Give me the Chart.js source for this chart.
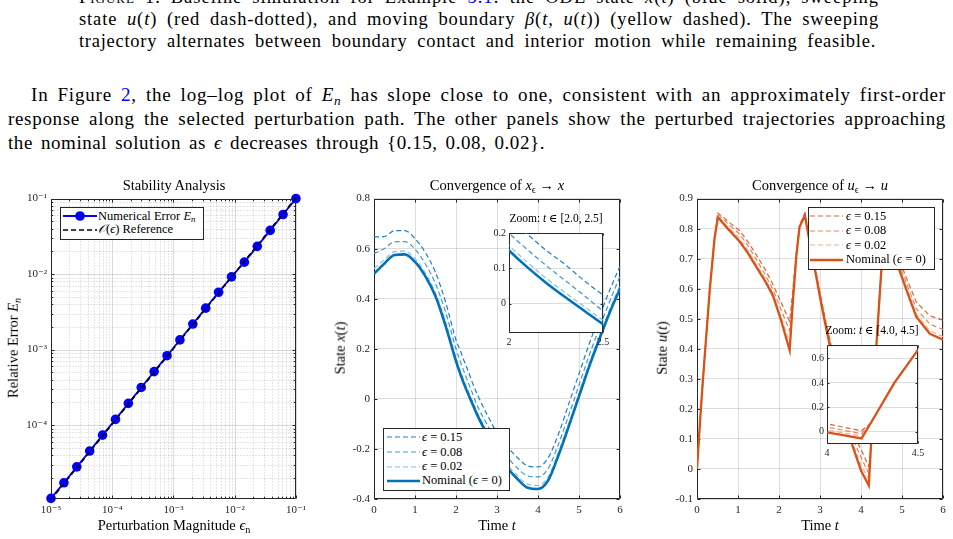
<!DOCTYPE html>
<html><head><meta charset="utf-8">
<script src="https://cdn.jsdelivr.net/npm/chart.js@4.4.1/dist/chart.umd.min.js"></script>
<style>
html,body{margin:0;padding:0;background:#fff}
body{width:953px;height:539px;overflow:hidden;position:relative;font-family:"Liberation Serif","DejaVu Serif",serif;color:#000}
.tl{position:absolute;white-space:nowrap;line-height:1}
.ref{color:#0000ff}
sub{font-size:70%;vertical-align:-0.28em;line-height:0}
.lab{position:absolute;white-space:nowrap;line-height:1;z-index:5}
.cv{position:absolute}
.leg{position:absolute;background:#fff;border:1px solid #262626;box-sizing:border-box;z-index:10}
.row{position:absolute;white-space:nowrap;line-height:1;display:flex;align-items:center;height:14px}
.row svg{flex:none;display:block}
</style></head><body>
<script>
// ---------------- DATA ----------------
// Panel 1: stability analysis (log-log)
const epsN = [1.000e-5,1.624e-5,2.637e-5,4.281e-5,6.952e-5,1.129e-4,1.833e-4,2.976e-4,4.833e-4,7.848e-4,1.274e-3,2.069e-3,3.360e-3,5.456e-3,8.859e-3,1.438e-2,2.336e-2,3.793e-2,6.158e-2,1.000e-1];
const errN = [1.07e-5,1.72e-5,2.80e-5,4.53e-5,7.36e-5,1.19e-4,1.94e-4,3.15e-4,5.11e-4,8.30e-4,1.345e-3,2.18e-3,3.54e-3,5.75e-3,9.20e-3,1.44e-2,2.33e-2,3.79e-2,6.15e-2,1.00e-1];
const refN = [1.03e-5,1.673e-5,2.716e-5,4.409e-5,7.161e-5,1.163e-4,1.888e-4,3.065e-4,4.978e-4,8.083e-4,1.312e-3,2.131e-3,3.461e-3,5.62e-3,9.125e-3,1.481e-2,2.406e-2,3.907e-2,6.343e-2,1.03e-1];
const logDecades = [1e-5,1e-4,1e-3,1e-2,1e-1];

// Panel 2: x(t)
const tX   = [0,0.25,0.5,0.75,1,1.25,1.5,1.75,2,2.1,2.2,2.3,2.4,2.5,2.75,3,3.25,3.5,3.75,4,4.25,4.5,4.75,5,5.25,5.5,5.75,6];
const xNom = [0.500,0.540,0.575,0.577,0.547,0.490,0.410,0.290,0.151,0.102,0.058,0.018,-0.020,-0.058,-0.140,-0.215,-0.275,-0.320,-0.355,-0.360,-0.325,-0.225,-0.110,0.010,0.130,0.240,0.345,0.440];
const x015 = [0.647,0.648,0.672,0.672,0.640,0.585,0.505,0.385,0.235,0.195,0.150,0.110,0.065,0.025,-0.060,-0.135,-0.190,-0.235,-0.268,-0.272,-0.235,-0.140,-0.020,0.100,0.220,0.330,0.435,0.530];
const x008 = [0.580,0.600,0.627,0.628,0.598,0.540,0.460,0.345,0.200,0.152,0.107,0.065,0.023,-0.020,-0.100,-0.175,-0.232,-0.277,-0.308,-0.312,-0.278,-0.180,-0.065,0.055,0.175,0.285,0.390,0.490];
const x002 = [0.521,0.555,0.588,0.590,0.560,0.503,0.423,0.305,0.165,0.116,0.071,0.031,-0.008,-0.047,-0.128,-0.202,-0.262,-0.307,-0.341,-0.346,-0.311,-0.212,-0.097,0.023,0.143,0.253,0.358,0.454];

// Panel 3: u(t)
const tU   = [0,0.08,0.15,0.23,0.31,0.43,0.51,0.75,1.04,1.25,1.45,1.65,1.85,2.05,2.26,2.34,2.42,2.5,2.63,2.77,2.91,3.03,3.16,3.4,3.6,3.8,4.0,4.19,4.24,4.37,4.5,4.62,4.78,4.94,5.11,5.35,5.68,6.0];
const uNom = [0,0.17,0.307,0.45,0.595,0.77,0.838,0.80,0.757,0.717,0.672,0.628,0.578,0.495,0.395,0.56,0.705,0.805,0.844,0.74,0.639,0.55,0.462,0.31,0.18,0.074,-0.005,-0.055,0.07,0.40,0.67,0.85,0.76,0.66,0.595,0.506,0.45,0.43];
const u015 = [0,0.17,0.307,0.45,0.597,0.775,0.852,0.825,0.793,0.755,0.712,0.667,0.615,0.555,0.49,0.60,0.715,0.81,0.852,0.752,0.652,0.566,0.48,0.335,0.21,0.12,0.065,0.008,0.07,0.40,0.67,0.862,0.785,0.695,0.635,0.555,0.51,0.495];
const u008 = [0,0.17,0.307,0.45,0.596,0.773,0.848,0.817,0.782,0.742,0.697,0.65,0.598,0.53,0.46,0.585,0.71,0.808,0.848,0.746,0.646,0.559,0.472,0.325,0.2,0.1,0.039,-0.016,0.07,0.40,0.67,0.857,0.775,0.68,0.617,0.533,0.482,0.464];
const u002 = [0,0.17,0.307,0.45,0.595,0.771,0.842,0.807,0.767,0.727,0.681,0.636,0.585,0.507,0.42,0.567,0.706,0.806,0.846,0.742,0.641,0.552,0.465,0.316,0.188,0.085,0.013,-0.035,0.07,0.40,0.67,0.852,0.765,0.666,0.602,0.515,0.46,0.44];

// tick values
const ticksT  = [0,1,2,3,4,5,6];
const ticksXv = [-0.4,-0.2,0,0.2,0.4,0.6,0.8];
const ticksUv = [-0.1,0,0.1,0.2,0.3,0.4,0.5,0.6,0.7,0.8,0.9];
const ticksInsXt = [2,2.5], ticksInsXv = [0,0.1,0.2];
const ticksInsUt = [4,4.5], ticksInsUv = [0,0.2,0.4,0.6];

const blues   = ['#1f80c4','#4296cf','#86bce3','#0072bd'];
const oranges = ['#de6535','#e6835a','#efae90','#d95319'];

// ---------------- TEXT ----------------
const FONT = '"Liberation Serif","DejaVu Serif",serif';
function textLine(s){
  const d=document.createElement('div'); d.className='tl'; d.innerHTML=s.html;
  d.style.fontSize=s.size+'px'; d.style.left=s.x+'px'; document.body.appendChild(d);
  const nat=d.getBoundingClientRect().width;
  const chars=d.textContent.length;
  const n=(d.textContent.match(/ /g)||[]).length;
  if(s.w){
    const extra=s.w-nat;
    if(extra>0){ d.style.letterSpacing=(extra*0.6/chars)+'px'; }
    const nat2=d.getBoundingClientRect().width;
    if(n) d.style.wordSpacing=((s.w-nat2)/n)+'px';
  }
  d.style.top=(s.base-s.size*0.84)+'px';
}
[
 {html:'<span style="font-variant:small-caps">Figure 1.</span> Baseline simulation for Example <span class="ref">5.1</span>: the ODE state <i>x</i>(<i>t</i>) (blue solid), sweeping',x:79,w:800,base:4,size:18.5},
 {html:'state <i>u</i>(<i>t</i>) (red dash-dotted), and moving boundary <i>β</i>(<i>t</i>, <i>u</i>(<i>t</i>)) (yellow dashed). The sweeping',x:79,w:800,base:26,size:18.5},
 {html:'trajectory alternates between boundary contact and interior motion while remaining feasible.',x:79,w:797,base:48,size:18.5},
 {html:'In Figure <span class="ref">2</span>, the log–log plot of <i>E<sub>n</sub></i> has slope close to one, consistent with an approximately first-order',x:31,w:915,base:101,size:19},
 {html:'response along the selected perturbation path. The other panels show the perturbed trajectories approaching',x:8,w:938,base:125,size:19},
 {html:'the nominal solution as <i>ϵ</i> decreases through {0.15, 0.08, 0.02}.',x:8,w:537,base:149,size:19}
].forEach(textLine);

function lab(html,cx,cy,size,rot){
  const d=document.createElement('div'); d.className='lab'; d.innerHTML=html; d.style.fontSize=size+'px';
  d.style.left=cx+'px'; d.style.top=cy+'px';
  d.style.transform='translate(-50%,-50%)'+(rot?' rotate(-90deg)':'');
  document.body.appendChild(d); return d;
}

// ---------------- CHART HELPERS ----------------
Chart.defaults.font.family = FONT;
Chart.defaults.color = '#262626';
const isDecade = v => Math.abs(Math.log10(v)-Math.round(Math.log10(v)))<1e-6;
const supMap={'-':'⁻','0':'⁰','1':'¹','2':'²','3':'³','4':'⁴','5':'⁵','6':'⁶','7':'⁷','8':'⁸','9':'⁹'};
const pow10 = v => '10'+String(Math.round(Math.log10(v))).split('').map(c=>supMap[c]).join('');
function logTicks(lo,hi){
  const out=[]; logDecades.forEach(d=>{for(let k=1;k<10;k++){const v=d*k; if(v>=lo*0.9999&&v<=hi*1.0001) out.push(v);}}); return out;
}

const framePlugin = {
  id:'frame',
  beforeDraw(chart,args,o){
    if(!o.fill) return; const a=chart.chartArea, c=chart.ctx;
    c.save(); c.fillStyle='#fff'; c.fillRect(a.left,a.top,a.right-a.left,a.bottom-a.top); c.restore();
  },
  beforeDatasetsDraw(chart,args,o){
    const a=chart.chartArea, c=chart.ctx, xs=chart.scales.x, ys=chart.scales.y;
    const L=Math.round(a.left)+0.5, R=Math.round(a.right)-0.5, T=Math.round(a.top)+0.5, B=Math.round(a.bottom)-0.5;
    c.save();
    if(o.logGrid){
      [[xs,false],[ys,true]].forEach(([s,h])=>{
        s.ticks.forEach(t=>{
          const p=Math.round(s.getPixelForValue(t.value))+0.5, maj=isDecade(t.value);
          c.beginPath(); c.setLineDash(maj?[]:[1,2]); c.lineWidth=1;
          c.strokeStyle=maj?'rgba(0,0,0,0.14)':'rgba(0,0,0,0.2)';
          if(h){c.moveTo(L,p);c.lineTo(R,p);} else {c.moveTo(p,T);c.lineTo(p,B);}
          c.stroke();
        });
      });
      c.setLineDash([]);
    }
    c.strokeStyle='#262626'; c.lineWidth=1; c.beginPath();
    const tl=o.tickLen||3;
    xs.ticks.forEach(t=>{const p=Math.round(xs.getPixelForValue(t.value))+0.5; const l=(o.logGrid&&!isDecade(t.value))?tl*0.6:tl;
      c.moveTo(p,B);c.lineTo(p,B-l);c.moveTo(p,T);c.lineTo(p,T+l);});
    ys.ticks.forEach(t=>{const p=Math.round(ys.getPixelForValue(t.value))+0.5; const l=(o.logGrid&&!isDecade(t.value))?tl*0.6:tl;
      c.moveTo(L,p);c.lineTo(L+l,p);c.moveTo(R,p);c.lineTo(R-l,p);});
    c.stroke();
    c.beginPath(); c.rect(L,T,R-L,B-T); c.stroke();
    c.restore();
  }
};

function panel(p){
  const W=p.plot.w+p.pad.l+p.pad.r, H=p.plot.h+p.pad.t+p.pad.b;
  const d=document.createElement('div'); d.className='cv';
  d.style.left=(p.plot.l-p.pad.l)+'px'; d.style.top=(p.plot.t-p.pad.t)+'px';
  d.style.width=W+'px'; d.style.height=H+'px'; d.style.zIndex=p.z||1;
  const cv=document.createElement('canvas'); cv.width=W; cv.height=H; cv.style.width=W+'px'; cv.style.height=H+'px';
  d.appendChild(cv); document.body.appendChild(d);
  const fs=p.fontSize||11;
  const axis=(ax,isX)=>({
    type:ax.type||'linear', min:ax.min, max:ax.max, position:isX?'bottom':'left',
    afterFit:s=>{ if(isX) s.height=p.pad.b; else s.width=p.pad.l; },
    afterBuildTicks:s=>{ s.ticks=ax.ticks.map(v=>({value:v})); },
    grid:{display:!p.logGrid, drawTicks:false, color:'rgba(0,0,0,0.13)', lineWidth:1},
    border:{display:false},
    ticks:{autoSkip:false, maxRotation:0, minRotation:0, padding:isX?(p.xPad||5):(p.yPad||4), color:'#262626',
      font:{family:FONT,size:fs}, callback:ax.fmt}
  });
  return new Chart(cv,{
    type:'scatter',
    data:{datasets:p.datasets},
    options:{
      responsive:false, animation:false, devicePixelRatio:1,
      layout:{padding:{left:0,top:p.pad.t,right:p.pad.r,bottom:0}},
      plugins:{legend:{display:false}, tooltip:{enabled:false}, frame:{fill:!!p.fill, logGrid:!!p.logGrid, tickLen:p.tickLen||3}},
      scales:{x:axis(p.x,true), y:axis(p.y,false)},
      elements:{point:{radius:0}}
    },
    plugins:[framePlugin]
  });
}
const pts=(xs,ys)=>xs.map((x,i)=>({x:x,y:ys[i]}));
const numFmt = v => String(Math.round(v*100)/100);

// ---------------- PANEL 1 ----------------
panel({
  plot:{l:51,t:198,w:246,h:301}, pad:{l:46,t:10,r:14,b:22}, logGrid:true,
  x:{type:'logarithmic',min:1e-5,max:1e-1,ticks:logTicks(1e-5,1e-1),fmt:v=>isDecade(v)?pow10(v):''},
  y:{type:'logarithmic',min:1.05e-5,max:1e-1,ticks:logTicks(1.05e-5,1e-1),fmt:v=>isDecade(v)?pow10(v):''},
  datasets:[
    {data:pts(epsN,refN),showLine:true,borderColor:'#000',borderWidth:1.5,borderDash:[5,3],pointRadius:0,clip:false,order:0},
    {data:pts(epsN,errN),showLine:true,borderColor:'#0000ff',backgroundColor:'#0000ff',borderWidth:1.8,pointRadius:4.8,pointBorderWidth:0,clip:false,order:1}
  ]
});

// ---------------- PANEL 2 ----------------
const xSets=(clip)=>[
  {data:pts(tX,xNom),showLine:true,borderColor:blues[3],borderWidth:2.6,cubicInterpolationMode:'monotone',order:0,clip:clip},
  {data:pts(tX,x002),showLine:true,borderColor:blues[2],borderWidth:1.2,borderDash:[5,3],cubicInterpolationMode:'monotone',order:1,clip:clip},
  {data:pts(tX,x008),showLine:true,borderColor:blues[1],borderWidth:1.2,borderDash:[5,3],cubicInterpolationMode:'monotone',order:2,clip:clip},
  {data:pts(tX,x015),showLine:true,borderColor:blues[0],borderWidth:1.2,borderDash:[5,3],cubicInterpolationMode:'monotone',order:3,clip:clip}
];
panel({
  plot:{l:374,t:198,w:246,h:301}, pad:{l:46,t:10,r:14,b:22},
  x:{min:0,max:6,ticks:ticksT,fmt:numFmt}, y:{min:-0.4,max:0.8,ticks:ticksXv,fmt:numFmt},
  datasets:xSets(0)
});
panel({
  plot:{l:509,t:228,w:94,h:105}, pad:{l:30,t:4,r:12,b:16}, z:2, fill:true, fontSize:10, xPad:3, yPad:3, tickLen:2,
  x:{min:2,max:2.5,ticks:ticksInsXt,fmt:numFmt}, y:{min:-0.083,max:0.2,ticks:ticksInsXv,fmt:numFmt},
  datasets:xSets(0)
});

// ---------------- PANEL 3 ----------------
const uSets=()=>[
  {data:pts(tU,uNom),showLine:true,borderColor:oranges[3],borderWidth:2.3,order:0,clip:0},
  {data:pts(tU,u002),showLine:true,borderColor:oranges[2],borderWidth:1.2,borderDash:[5,3],order:1,clip:0},
  {data:pts(tU,u008),showLine:true,borderColor:oranges[1],borderWidth:1.2,borderDash:[5,3],order:2,clip:0},
  {data:pts(tU,u015),showLine:true,borderColor:oranges[0],borderWidth:1.2,borderDash:[5,3],order:3,clip:0}
];
panel({
  plot:{l:697,t:198,w:246,h:301}, pad:{l:46,t:10,r:10,b:22},
  x:{min:0,max:6,ticks:ticksT,fmt:numFmt}, y:{min:-0.1,max:0.9,ticks:ticksUv,fmt:numFmt},
  datasets:uSets()
});
panel({
  plot:{l:827,t:340,w:91,h:104}, pad:{l:30,t:4,r:12,b:16}, z:2, fill:true, fontSize:10, xPad:3, yPad:3, tickLen:2,
  x:{min:4,max:4.5,ticks:ticksInsUt,fmt:numFmt}, y:{min:-0.1,max:0.71,ticks:ticksInsUv,fmt:numFmt},
  datasets:uSets()
});

// ---------------- TITLES / LABELS ----------------
lab('Stability Analysis',174,185,14.5);
lab('Convergence of <i>x</i><sub>ϵ</sub> → <i>x</i>',497,185,14.5);
lab('Convergence of <i>u</i><sub>ϵ</sub> → <i>u</i>',820,185,14.5);
lab('Perturbation Magnitude <i>ϵ</i><sub>n</sub>',174,525,14.5);
lab('Time <i>t</i>',497,525,14.5);
lab('Time <i>t</i>',820,525,14.5);
lab('Relative Error <i>E<sub>n</sub></i>',13,348,14.5,true);
lab('State <i>x</i>(<i>t</i>)',340,348,14.5,true);
lab('State <i>u</i>(<i>t</i>)',662,348,14.5,true);
lab('Zoom: <i>t</i> ∈ [2.0, 2.5]',556,219,11.5);
lab('Zoom: <i>t</i> ∈ [4.0, 4.5]',872,331,11.5);

// ---------------- LEGENDS ----------------
function legend(box,rows,sx0,sx1,tx,fs){
  const b=document.createElement('div'); b.className='leg';
  b.style.left=box.l+'px'; b.style.top=box.t+'px'; b.style.width=(box.r-box.l)+'px'; b.style.height=(box.b-box.t)+'px';
  document.body.appendChild(b);
  rows.forEach(r=>{
    const row=document.createElement('div'); row.className='row';
    row.style.left=(sx0-box.l-1)+'px'; row.style.top=(r.y-box.t-1-7)+'px'; row.style.fontSize=fs+'px';
    const sw=tx-sx0, len=sx1-sx0;
    let svg=`<svg width="${sw}" height="14" viewBox="0 0 ${sw} 14"><line x1="0" y1="7" x2="${len}" y2="7" stroke="${r.color}" stroke-width="${r.w}" ${r.dash?'stroke-dasharray="'+r.dash+'"':''}/>`;
    if(r.marker) svg+=`<circle cx="${len/2}" cy="7" r="4.8" fill="${r.color}"/>`;
    svg+='</svg>';
    row.innerHTML=svg+'<span>'+r.html+'</span>';
    b.appendChild(row);
  });
}
legend({l:60,t:207,r:204,b:240},[
  {y:216,html:'Numerical Error <i>E<sub>n</sub></i>',color:'#0000ff',w:1.8,marker:true},
  {y:229.5,html:'<i>𝒪</i>(<i>ϵ</i>) Reference',color:'#000',w:1.5,dash:'5 3'}
],63,97,98,12.5);
const epsHtml=['<i>ϵ</i> = 0.15','<i>ϵ</i> = 0.08','<i>ϵ</i> = 0.02','Nominal (<i>ϵ</i> = 0)'];
legend({l:383,t:428,r:510,b:491},[
  {y:437,html:epsHtml[0],color:blues[0],w:1.2,dash:'5 3'},
  {y:452,html:epsHtml[1],color:blues[1],w:1.2,dash:'5 3'},
  {y:466.5,html:epsHtml[2],color:blues[2],w:1.2,dash:'5 3'},
  {y:480.5,html:epsHtml[3],color:blues[3],w:2.6}
],387,420,422,12.5);
legend({l:808,t:207,r:935,b:270},[
  {y:216,html:epsHtml[0],color:oranges[0],w:1.2,dash:'5 3'},
  {y:230.5,html:epsHtml[1],color:oranges[1],w:1.2,dash:'5 3'},
  {y:245,html:epsHtml[2],color:oranges[2],w:1.2,dash:'5 3'},
  {y:259.5,html:epsHtml[3],color:oranges[3],w:2.3}
],810,843,846,12.5);
</script>
</body></html>
